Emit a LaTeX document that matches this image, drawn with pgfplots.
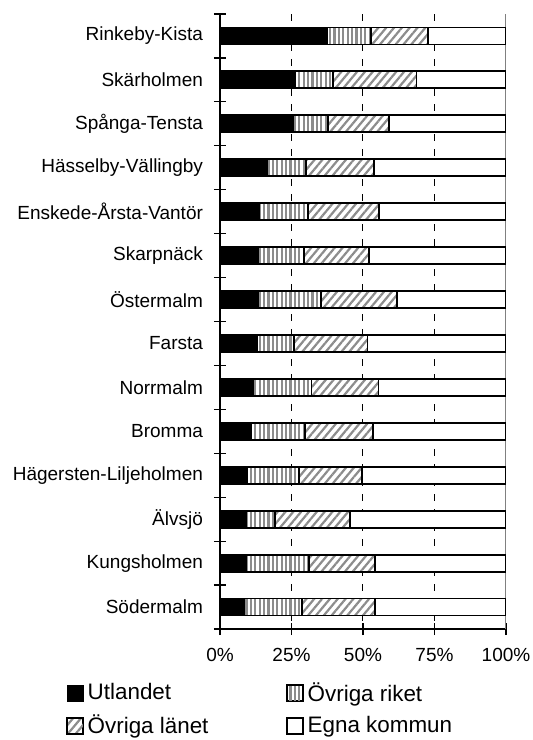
\documentclass[border=0pt]{standalone}
\usepackage{fontspec}
\setmainfont{Liberation Sans}
\usepackage{pgfplots}
\usepackage{pgfplotstable}
\pgfplotsset{compat=1.18}
\usetikzlibrary{patterns.meta}

\pgfplotstableread{
y ut ri la eg
0 37.6 15.1 19.9 27.4
1 26.4 13.1 29.2 31.3
2 25.7 12.1 21.2 41.0
3 16.5 13.5 23.8 46.2
4 13.6 17.1 24.9 44.4
5 13.4 15.9 22.9 47.8
6 13.4 21.9 26.6 38.1
7 12.8 13.0 25.8 48.4
8 11.5 20.5 23.4 44.6
9 10.8 18.9 23.9 46.4
10 9.5 18.0 22.1 50.4
11 9.3 9.8 26.3 54.6
12 9.0 22.1 23.1 45.8
13 8.6 20.0 25.6 45.8
}\datatable

\begin{document}
\begin{tikzpicture}
\useasboundingbox (-110pt,-55.5pt) rectangle (156pt,314.5pt);
\begin{axis}[
  scale only axis, width=143pt, height=307.5pt,
  xbar stacked, bar width=8.5pt,
  xmin=0, xmax=100, ymin=-0.5, ymax=13.5, y dir=reverse,
  axis x line*=bottom, axis y line*=left,
  axis line style={black, line width=0.6pt},
  /pgf/number format/assume math mode=true,
  tick label style={font=\fontsize{9.5}{11}\selectfont, black},
  xtick={0,25,50,75,100},
  xticklabels={0\%,25\%,50\%,75\%,100\%},
  tick align=center, major tick length=6pt,
  tick style={black, line width=0.6pt},
  xmajorgrids=true,
  grid style={black, line width=0.5pt, dash pattern=on 3.5pt off 4pt},
  ytick={-0.5,0.5,...,13.5}, yticklabels={},
  extra y ticks={0,1,...,13},
  extra y tick labels={Rinkeby-Kista,Skärholmen,Spånga-Tensta,Hässelby-Vällingby,Enskede-Årsta-Vantör,Skarpnäck,Östermalm,Farsta,Norrmalm,Bromma,Hägersten-Liljeholmen,Älvsjö,Kungsholmen,Södermalm},
  extra y tick style={major tick length=0pt, yticklabel style={xshift=-5pt}},
  xticklabel style={yshift=-3pt},
  legend columns=2,
  legend style={draw=none, fill=none, at={(-0.538,-0.131)}, anchor=west,
    inner sep=0pt,
    font=\fontsize{11.2}{13}\selectfont,
    /tikz/every even column/.append style={column sep=37pt},
    row sep=1.5pt, cells={anchor=west}},
  legend image code/.code={\draw[#1, line width=0.6pt] (0pt,-4pt) rectangle (8pt,4pt);},
]
\addplot[draw=black, line width=0.9pt, fill=black] table[x=ut, y=y] {\datatable};
\addplot[draw=black, line width=0.9pt, preaction={fill=white},
  pattern={Lines[angle=90,distance=2.2pt,line width=1.1pt]}, pattern color=black!45] table[x=ri, y=y] {\datatable};
\addplot[draw=black, line width=0.9pt, preaction={fill=white},
  pattern={Lines[angle=50,distance=3pt,line width=1.1pt]}, pattern color=black!45] table[x=la, y=y] {\datatable};
\addplot[draw=black, line width=0.9pt, fill=white] table[x=eg, y=y] {\datatable};
\legend{Utlandet,Övriga riket,Övriga länet,Egna kommun}
\draw[black!50, line width=1pt] (rel axis cs:1,0) -- (rel axis cs:1,1);
\end{axis}
\end{tikzpicture}
\end{document}
